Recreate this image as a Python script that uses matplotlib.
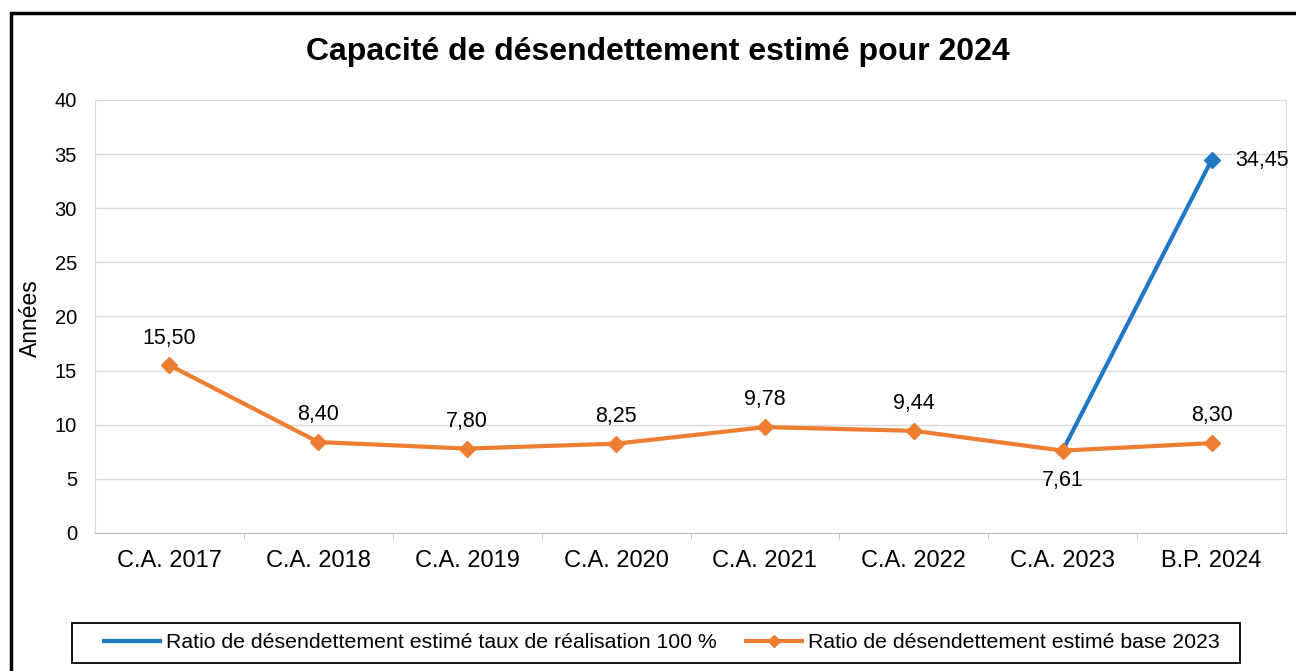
import matplotlib.pyplot as plt
from matplotlib.patches import Rectangle
from matplotlib.lines import Line2D

categories = ["C.A. 2017", "C.A. 2018", "C.A. 2019", "C.A. 2020", "C.A. 2021", "C.A. 2022", "C.A. 2023", "B.P. 2024"]
base_2023 = [15.50, 8.40, 7.80, 8.25, 9.78, 9.44, 7.61, 8.30]
taux_100 = [None, None, None, None, None, None, 7.61, 34.45]
base_labels = ["15,50", "8,40", "7,80", "8,25", "9,78", "9,44", "7,61", "8,30"]
taux_label = "34,45"
legend_labels = ["Ratio de désendettement estimé taux de réalisation 100 %",
                 "Ratio de désendettement estimé base 2023"]

plt.rcParams['font.family'] = ['Liberation Sans', 'DejaVu Sans']

W, H = 1296, 671
fig = plt.figure(figsize=(W / 100, H / 100), dpi=100)
ax = fig.add_axes([95 / W, 1 - 533 / H, (1286 - 95) / W, (533 - 100) / H])

blue = "#1f78c4"
orange = "#ed7d31"

x = list(range(len(categories)))
bx = [i for i, v in zip(x, taux_100) if v is not None]
bv = [v for v in taux_100 if v is not None]
ax.plot(bx, bv, color=blue, lw=3, zorder=3)
ax.plot(bx[-1:], bv[-1:], color=blue, marker='D', ms=8, ls='none', zorder=4)
ax.plot(x, base_2023, color=orange, lw=3, marker='D', ms=8, zorder=5)

for i, (v, lab) in enumerate(zip(base_2023, base_labels)):
    if i == 6:
        ax.annotate(lab, (i, v), xytext=(0, -14), textcoords='offset points',
                    ha='center', va='top', fontsize=15.5)
    else:
        ax.annotate(lab, (i, v), xytext=(0, 12), textcoords='offset points',
                    ha='center', va='bottom', fontsize=15.5)
ax.annotate(taux_label, (bx[-1], bv[-1]), xytext=(17, 0), textcoords='offset points',
            ha='left', va='center', fontsize=15.5)

ax.set_xlim(-0.5, len(categories) - 0.5)
ax.set_ylim(0, 40)
ax.set_yticks(range(0, 41, 5))
ax.set_xticks(x)
ax.set_xticklabels(categories, fontsize=17)
ax.set_xticks([i + 0.5 for i in x[:-1]], minor=True)
ax.tick_params(axis='y', labelsize=14.5, length=0, pad=13)
ax.tick_params(axis='x', which='major', length=0, pad=12)
ax.tick_params(axis='x', which='minor', length=4, color='#bfbfbf', direction='out')
ax.grid(axis='y', color='#d9d9d9', lw=1)
ax.set_axisbelow(True)
for s in ['left', 'right']:
    ax.spines[s].set_color('#d9d9d9')
ax.spines['top'].set_visible(False)
ax.spines['bottom'].set_color('#bfbfbf')

fig.text(30 / W, 1 - 318 / H, "Années", rotation=90, ha='center', va='center', fontsize=16.5)

fig.text(658 / W, 1 - 52 / H, "Capacité de désendettement estimé pour 2024",
         ha='center', va='center', fontsize=23, fontweight='bold')

# Outer frame (extends past the right and bottom edges)
fig.add_artist(Rectangle((11 / W, -0.05), 1.2, 1 - 13 / H + 0.05,
                         transform=fig.transFigure, fill=False, ec='black', lw=2.5))

# Legend box
fig.add_artist(Rectangle((72 / W, 1 - 663 / H), (1240 - 72) / W, (663 - 623) / H,
                         transform=fig.transFigure, fill=False, ec='black', lw=1.3))

handles = [Line2D([], [], color=blue, lw=3),
           Line2D([], [], color=orange, lw=3, marker='D', ms=6)]
leg = fig.legend(handles, legend_labels,
                 loc='center', bbox_to_anchor=(662 / W, 1 - 643 / H), ncol=2,
                 fontsize=15.3, frameon=False,
                 handlelength=2.6, handletextpad=0.3, columnspacing=1.4,
                 borderpad=0.2)

fig.savefig("out.png", dpi=100)
